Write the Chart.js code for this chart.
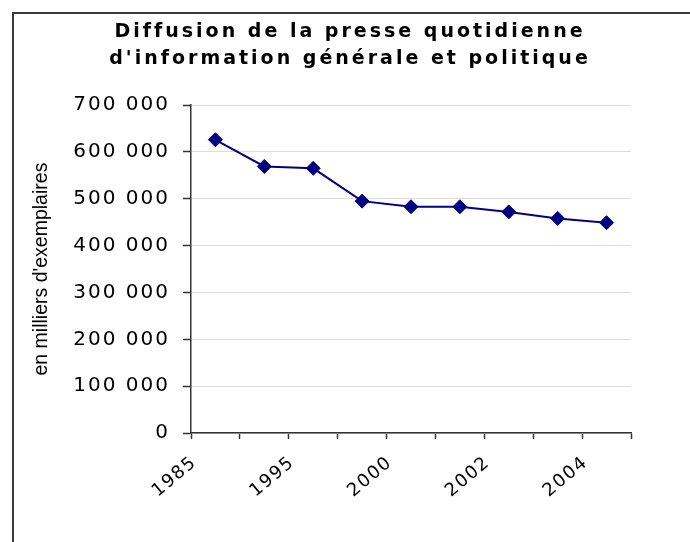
<!DOCTYPE html>
<html>
<head>
<meta charset="utf-8">
<script src="https://cdn.jsdelivr.net/npm/chart.js@4"></script>
<style>
  html, body { margin: 0; padding: 0; background: #fff; }
  #wrap { width: 690px; height: 542px; position: relative; }
</style>
</head>
<body>
<div id="wrap"><canvas id="c" width="690" height="542"></canvas></div>
<script>
const years = ['1985', '1990', '1995', '1999', '2000', '2001', '2002', '2003', '2004'];
const diffusion = [626000, 569000, 565000, 495000, 483000, 483000, 472000, 458000, 449000];
const titleLines = ['Diffusion de la presse quotidienne', "d'information générale et politique"];
const yAxisTitle = "en milliers d'exemplaires";
const shownYearIdx = [0, 2, 4, 6, 8];

function fmt(v) {
  return String(v).replace(/\B(?=(\d{3})+(?!\d))/g, ' ');
}

function withSpacing(obj, fnName, spacing) {
  const orig = obj[fnName];
  obj[fnName] = function () {
    const ctx = this.ctx;
    const prev = ctx.letterSpacing;
    ctx.letterSpacing = spacing;
    const r = orig.apply(this, arguments);
    ctx.letterSpacing = prev || '0px';
    return r;
  };
}

const framePlugin = {
  id: 'frame',
  beforeDraw(chart) {
    const ctx = chart.ctx;
    ctx.save();
    ctx.fillStyle = '#fff';
    ctx.fillRect(0, 0, chart.width, chart.height);
    ctx.strokeStyle = '#3a3a3a';
    ctx.lineWidth = 2;
    ctx.beginPath();
    ctx.moveTo(13, chart.height);
    ctx.lineTo(13, 13);
    ctx.lineTo(chart.width, 13);
    ctx.stroke();
    ctx.restore();
  },
  afterLayout(chart) {
    if (chart.titleBlock) {
      chart.titleBlock.left = 10;
      chart.titleBlock.right = chart.width;
      chart.titleBlock.width = chart.width - 10;
    }
    if (chart.$spacingPatched) return;
    chart.$spacingPatched = true;
    if (chart.titleBlock) withSpacing(chart.titleBlock, 'draw', '3px');
    withSpacing(chart.scales.y, 'drawLabels', '2px');
    withSpacing(chart.scales.x, 'drawLabels', '1.5px');
  }
};

new Chart(document.getElementById('c'), {
  type: 'line',
  data: {
    labels: years,
    datasets: [{
      data: diffusion,
      borderColor: '#000080',
      backgroundColor: '#000080',
      borderWidth: 2,
      pointStyle: 'rectRot',
      pointRadius: 7,
      pointBorderWidth: 1,
      pointBackgroundColor: '#000080',
      pointBorderColor: '#000080',
      tension: 0,
      fill: false
    }]
  },
  options: {
    responsive: false,
    animation: false,
    devicePixelRatio: 1,
    layout: { padding: { top: 0, left: 0, right: 59, bottom: 0 } },
    plugins: {
      legend: { display: false },
      tooltip: { enabled: false },
      title: {
        display: true,
        text: titleLines,
        color: '#000',
        font: { family: 'DejaVu Sans, Verdana, sans-serif', size: 19, weight: 'bold', lineHeight: 1.45 },
        padding: { top: 18, bottom: 32 }
      }
    },
    scales: {
      x: {
        offset: true,
        grid: {
          offset: true,
          drawOnChartArea: false,
          drawTicks: true,
          tickLength: 6,
          tickColor: '#333',
          tickWidth: 1.5
        },
        border: { color: '#333', width: 1.5 },
        ticks: {
          autoSkip: false,
          minRotation: 40,
          maxRotation: 40,
          padding: 13,
          labelOffset: -21,
          color: '#000',
          font: { family: 'DejaVu Sans, Verdana, sans-serif', size: 18 },
          callback: function (val, idx) {
            return shownYearIdx.includes(idx) ? years[idx] : '';
          }
        },
        afterFit(scale) { scale.height = 109; }
      },
      y: {
        min: 0,
        max: 700000,
        grid: {
          color: '#dcdcdc',
          lineWidth: 1,
          drawTicks: true,
          tickLength: 8,
          tickColor: '#333',
          tickWidth: 1.5
        },
        border: { color: '#333', width: 1.5 },
        ticks: {
          stepSize: 100000,
          padding: 13,
          color: '#000',
          font: { family: 'DejaVu Sans, Verdana, sans-serif', size: 20 },
          callback: v => fmt(v)
        },
        title: {
          display: true,
          text: yAxisTitle,
          color: '#000',
          font: { family: 'Liberation Sans, Arial, sans-serif', size: 19.5 },
          padding: { top: 30, bottom: 0 }
        },
        afterFit(scale) { scale.width = 191; }
      }
    }
  },
  plugins: [framePlugin]
});
</script>
</body>
</html>
